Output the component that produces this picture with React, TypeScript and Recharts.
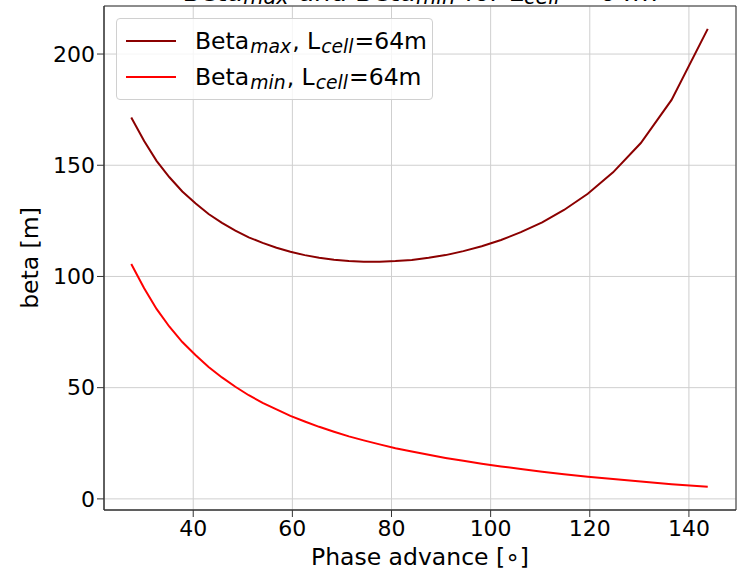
import {
  LineChart,
  Line,
  XAxis,
  YAxis,
  CartesianGrid,
  ReferenceArea,
} from "recharts";

// phase advance per cell [deg]
const phaseAdvance = [
  27.5, 30.1, 32.6, 35.2, 37.8, 40.5, 43.1, 45.8, 48.5, 51.2, 54.0, 56.8,
  59.6, 62.5, 65.4, 68.4, 71.4, 74.4, 77.6, 80.8, 84.1, 87.5, 90.9, 94.5,
  98.2, 102.1, 106.1, 110.4, 114.8, 119.6, 124.7, 130.3, 136.5, 143.8,
];

const betaMax = [
  171.5, 160.9, 152.0, 144.6, 138.2, 132.8, 128.1, 124.1, 120.6, 117.6, 115.1,
  112.9, 111.1, 109.6, 108.4, 107.5, 106.9, 106.6, 106.6, 106.9, 107.4, 108.4,
  109.6, 111.4, 113.6, 116.4, 119.9, 124.3, 129.9, 137.2, 146.8, 160.0, 179.4,
  211.3,
];

const betaMin = [
  105.6, 94.7, 85.4, 77.4, 70.5, 64.6, 59.3, 54.6, 50.4, 46.6, 43.2, 40.2,
  37.3, 34.8, 32.4, 30.2, 28.1, 26.3, 24.5, 22.8, 21.3, 19.8, 18.4, 17.1, 15.8,
  14.6, 13.4, 12.2, 11.1, 10.0, 8.9, 7.8, 6.6, 5.4,
];

const xTicks = [40, 60, 80, 100, 120, 140];
const yTicks = [0, 50, 100, 150, 200];

const data = phaseAdvance.map((mu, i) => ({
  mu,
  bmax: betaMax[i],
  bmin: betaMin[i],
}));

const FONT = "'DejaVu Sans', sans-serif";
const TICK_SIZE = 22;
const LABEL_SIZE = 23.5;
const X_DOMAIN = [22, 149.5];
const Y_DOMAIN = [-5, 221.6];

const series = [
  { key: "bmax", color: "#8b0000", sub: "max" },
  { key: "bmin", color: "#ff0000", sub: "min" },
];

const subStyle = {
  fontSize: "0.8em",
  fontStyle: "italic",
  verticalAlign: "-0.22em",
  lineHeight: 0,
  margin: "0 1px",
};

const titleSub = { ...subStyle, verticalAlign: "-0.15em" };

function LegendBox() {
  return (
    <div
      style={{
        position: "absolute",
        left: 116,
        top: 18,
        border: "1px solid #d0d0d0",
        borderRadius: 4,
        background: "rgba(255,255,255,0.8)",
        padding: "4px 5px 4px 9px",
        fontFamily: FONT,
        fontSize: LABEL_SIZE,
        color: "#000",
        zIndex: 2,
      }}
    >
      {series.map((s) => (
        <div
          key={s.key}
          style={{ display: "flex", alignItems: "center", height: 36 }}
        >
          <div
            style={{
              width: 50,
              height: 2,
              background: s.color,
              marginRight: 19,
            }}
          />
          <span style={{ whiteSpace: "nowrap" }}>
            Beta<span style={subStyle}>{s.sub}</span>, L
            <span style={subStyle}>cell</span>=64m
          </span>
        </div>
      ))}
    </div>
  );
}

export default function App() {
  return (
    <div
      style={{
        position: "absolute",
        left: 0,
        top: 0,
        width: 738,
        height: 568,
        overflow: "hidden",
        background: "#fff",
      }}
    >
      <div
        style={{
          position: "absolute",
          left: 0,
          width: 840,
          top: -19,
          textAlign: "center",
          fontFamily: FONT,
          fontSize: 26,
          lineHeight: "22px",
          whiteSpace: "nowrap",
          zIndex: 2,
        }}
      >
        Beta<span style={titleSub}>max</span> and Beta
        <span style={titleSub}>min</span> for L
        <span style={titleSub}>cell</span> = 64m
      </div>
      <LineChart
        width={738}
        height={568}
        data={data}
        margin={{ top: 6, right: 2, bottom: 0, left: 0 }}
      >
        <CartesianGrid stroke="#cfcfcf" strokeWidth={1} />
        <XAxis
          dataKey="mu"
          type="number"
          domain={X_DOMAIN}
          ticks={xTicks}
          allowDataOverflow
          height={58}
          tickSize={7}
          tickMargin={3}
          stroke="#333"
          tick={{ fontFamily: FONT, fontSize: TICK_SIZE, fill: "#000" }}
          label={{
            value: "Phase advance [∘]",
            position: "insideBottom",
            offset: 3,
            style: { fontFamily: FONT, fontSize: LABEL_SIZE, fill: "#000" },
          }}
        />
        <YAxis
          type="number"
          domain={Y_DOMAIN}
          ticks={yTicks}
          allowDataOverflow
          width={104}
          tickSize={7}
          tickMargin={2}
          stroke="#333"
          tick={{ fontFamily: FONT, fontSize: TICK_SIZE, fill: "#000" }}
          label={{
            value: "beta [m]",
            angle: -90,
            position: "insideLeft",
            offset: 30,
            style: {
              fontFamily: FONT,
              fontSize: LABEL_SIZE,
              fill: "#000",
              textAnchor: "middle",
            },
          }}
        />
        <ReferenceArea
          x1={X_DOMAIN[0]}
          x2={X_DOMAIN[1]}
          y1={Y_DOMAIN[0]}
          y2={Y_DOMAIN[1]}
          fill="none"
          stroke="#333"
          strokeWidth={1}
        />
        {series.map((s) => (
          <Line
            key={s.key}
            dataKey={s.key}
            type="linear"
            stroke={s.color}
            strokeWidth={2}
            dot={false}
            isAnimationActive={false}
          />
        ))}
      </LineChart>
      <LegendBox />
    </div>
  );
}
